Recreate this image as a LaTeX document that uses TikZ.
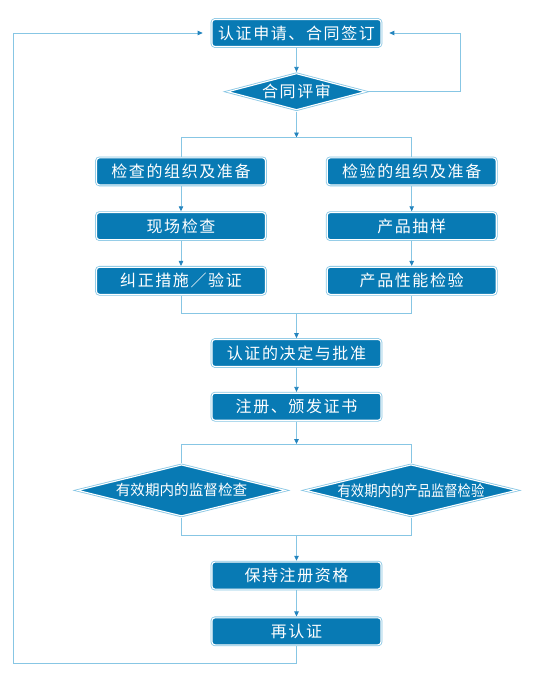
\documentclass[tikz,border=0pt]{standalone}
\usepackage{graphicx}
\usepackage{fontspec}
\newfontfamily\cjkbox[LetterSpace=10]{Noto Sans CJK SC}
\newfontfamily\cjkdia{Noto Sans CJK SC}
\usetikzlibrary{arrows.meta,positioning,shapes.geometric}
\definecolor{boxblue}{RGB}{8,122,180}
\definecolor{lineblue}{RGB}{135,198,228}
\definecolor{tipblue}{RGB}{35,132,190}

\begin{document}
\begin{tikzpicture}[
  x=1pt, y=-1pt,
  proc/.style={rectangle, rounded corners=3pt, fill=boxblue, draw=white,
               line width=1.1pt, preaction={draw=lineblue, line width=2.7pt},
               outer sep=1.35pt, minimum width=169pt, minimum height=27pt,
               inner sep=2pt, text=white, font=\cjkbox\fontsize{16}{18}\selectfont},
  dec/.style={diamond, shape aspect=4, fill=boxblue, draw=white,
              line width=1.1pt, preaction={draw=lineblue, line width=2.7pt},
              outer sep=1.35pt, inner sep=0pt, text=white},
  link/.style={draw=lineblue, line width=0.8pt},
  arr/.style={link, -{Triangle[length=5pt, width=4.5pt, color=tipblue]}},
]
  \useasboundingbox (0,0) rectangle (541,688);

  %% Main vertical path
  \node[proc] (apply) at (296.5,33) {认证申请、合同签订};
  \node[dec, below=24pt of apply, minimum width=138pt, minimum height=37pt,
        font=\cjkbox\fontsize{16}{18}\selectfont] (review) {合同评审};

  %% Two columns
  \node[proc, below=45pt of review, xshift=-115.5pt] (chkprep) {检查的组织及准备};
  \node[proc, right=59pt of chkprep] (insprep) {检验的组织及准备};
  \node[proc, below=25pt of chkprep] (onsite) {现场检查};
  \node[proc, below=25pt of insprep] (sampling) {产品抽样};
  \node[proc, below=25pt of onsite] (correct) {纠正措施／验证};
  \node[proc, below=25pt of sampling] (perftest) {产品性能检验};

  \node[proc, below=42.5pt of correct, xshift=115.5pt] (decide) {认证的决定与批准};
  \node[proc, below=24pt of decide] (register) {注册、颁发证书};

  %% Surveillance diamonds
  \node[dec, below=41.5pt of register, xshift=-115pt, minimum width=208pt,
        minimum height=52pt, font=\cjkdia\fontsize{14.6}{17}\selectfont] (supchk)
    {有效期内的监督检查};
  \node[dec, below=41.5pt of register, xshift=114.5pt, minimum width=211pt,
        minimum height=52pt, font=\cjkdia\fontsize{15}{17}\selectfont] (supprod)
    {\scalebox{0.89}[1]{有效期内的产品监督检验}};

  \node[proc, below=43pt of supchk, xshift=115pt] (keep) {保持注册资格};
  \node[proc, below=26pt of keep] (recert) {再认证};

  %% Fork and join points
  \path (review.south |- chkprep.north) ++(0,-19) coordinate (fork1);
  \path (decide.north |- correct.south) ++(0,18) coordinate (join1);
  \path (register.south |- supchk.north) ++(0,-19) coordinate (fork2);
  \path (keep.north |- supchk.south) ++(0,18) coordinate (join2);
  \coordinate (loopL) at (13,663);
  \coordinate (loopR) at (460,33);

  %% Arrows — main path
  \draw[arr] (apply) -- (review);
  \draw[arr] (review.south) -- (fork1);
  \draw[link] (chkprep.north) |- (fork1) -| (insprep.north);
  \draw[arr] (chkprep) -- (onsite);
  \draw[arr] (onsite) -- (correct);
  \draw[arr] (insprep) -- (sampling);
  \draw[arr] (sampling) -- (perftest);
  \draw[link] (correct.south) |- (join1) -| (perftest.south);
  \draw[arr] (join1) -- (decide);
  \draw[arr] (decide) -- (register);
  \draw[arr] (register.south) -- (fork2);
  \draw[link] (supchk.north) |- (fork2) -| (supprod.north);
  \draw[link] (supchk.south) |- (join2) -| (supprod.south);
  \draw[arr] (join2) -- (keep);
  \draw[arr] (keep) -- (recert);

  %% Arrows — feedback loops
  \draw[arr, shorten >=8pt] (recert.south) |- (loopL) |- (apply.west);
  \draw[arr, shorten >=7pt] (review.east) -| (loopR) -- (apply.east);
\end{tikzpicture}
\end{document}
